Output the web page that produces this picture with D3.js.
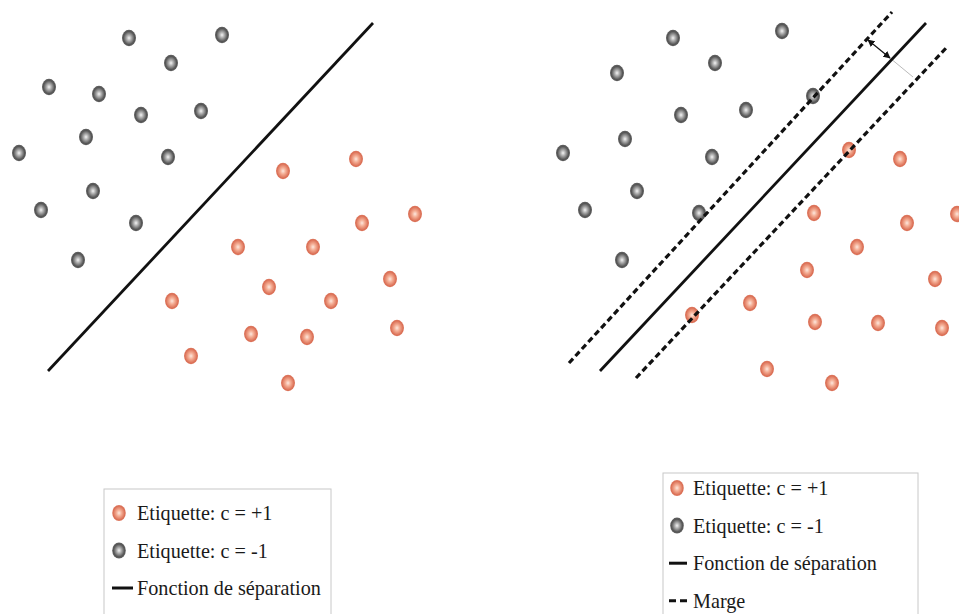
<!DOCTYPE html>
<html>
<head>
<meta charset="utf-8">
<script src="https://cdn.jsdelivr.net/npm/d3@7"></script>
<style>
body { margin: 0; background: #fff; }
text { font-family: "Liberation Serif", "Times New Roman", serif; }
</style>
</head>
<body>
<svg id="chart"></svg>
<script>
// feature space (x1, x2)
var grayLeft = [
  [12.9,36.2],[22.2,36.5],[17.1,33.7],[4.9,31.3],[9.9,30.6],[14.1,28.5],[20.1,28.9],
  [8.6,26.3],[1.9,24.7],[16.8,24.3],[9.3,20.9],[4.1,19.0],[13.6,17.7],[7.8,14.0]
];
var redLeft = [
  [28.3,22.9],[35.6,24.1],[41.5,18.6],[36.2,17.7],[23.8,15.3],[31.3,15.3],[39.0,12.1],
  [26.9,11.3],[33.1,9.9],[17.2,9.9],[25.1,6.6],[30.7,6.3],[39.7,7.2],[19.1,4.4],[28.8,1.7]
];
var sepLeft = [[4.8,2.9],[37.3,37.7]];

var grayRight = [
  [13.3,36.2],[24.2,36.9],[17.5,33.7],[7.7,32.7],[27.3,30.4],[14.1,28.5],[20.6,29.0],
  [8.5,26.1],[2.3,24.7],[17.2,24.3],[9.7,20.9],[4.5,19.0],[15.9,18.7],[8.2,14.0]
];
var redRight = [
  [30.9,25.0],[36.0,24.1],[41.7,18.6],[27.4,18.7],[36.7,17.7],[31.7,15.3],[26.7,13.0],
  [39.5,12.1],[21.0,9.7],[15.2,8.5],[27.5,7.8],[33.8,7.7],[40.2,7.2],[22.7,3.1],[29.2,1.7]
];
var sepRight = [[6.0,2.9],[38.6,37.7]];
var margeUp = [[2.9,3.7],[35.2,38.8]];
var margeDown = [[9.6,2.2],[40.7,35.3]];
var margeArrow = [[32.8,36.0],[35.0,34.2]];
var margeGuide = [[35.0,34.2],[37.3,32.3]];

var legendLeft = [
  {kind: "red", label: "Etiquette: c = +1"},
  {kind: "gray", label: "Etiquette: c = -1"},
  {kind: "line", label: "Fonction de séparation"}
];
var legendRight = [
  {kind: "red", label: "Etiquette: c = +1"},
  {kind: "gray", label: "Etiquette: c = -1"},
  {kind: "line", label: "Fonction de séparation"},
  {kind: "dash", label: "Marge"}
];

var screen = {width: 959, height: 614};

var svg = d3.select("#chart")
  .attr("width", screen.width)
  .attr("height", screen.height);

svg.append("rect")
  .attr("width", screen.width)
  .attr("height", screen.height)
  .attr("fill", "#fff");

var defs = svg.append("defs");

var gGray = defs.append("radialGradient").attr("id", "ballGray")
  .attr("cx", "50%").attr("cy", "50%").attr("r", "55%");
gGray.append("stop").attr("offset", "0%").attr("stop-color", "#f4f4f4");
gGray.append("stop").attr("offset", "30%").attr("stop-color", "#b0b0b0");
gGray.append("stop").attr("offset", "72%").attr("stop-color", "#555");
gGray.append("stop").attr("offset", "100%").attr("stop-color", "#666");

var gRed = defs.append("radialGradient").attr("id", "ballRed")
  .attr("cx", "50%").attr("cy", "50%").attr("r", "55%");
gRed.append("stop").attr("offset", "0%").attr("stop-color", "#fde8de");
gRed.append("stop").attr("offset", "35%").attr("stop-color", "#f4ad94");
gRed.append("stop").attr("offset", "80%").attr("stop-color", "#da6d53");
gRed.append("stop").attr("offset", "100%").attr("stop-color", "#e49480");

defs.append("marker").attr("id", "tip")
  .attr("viewBox", "0 0 10 10")
  .attr("refX", 9).attr("refY", 5)
  .attr("markerWidth", 6).attr("markerHeight", 6)
  .attr("orient", "auto-start-reverse")
  .append("path").attr("d", "M0,0 L10,5 L0,10 z").attr("fill", "#111");

var yScale = d3.scaleLinear().domain([0, 40]).range([400, 0]);
var xLeft = d3.scaleLinear().domain([0, 44]).range([0, 440]);
var xRight = d3.scaleLinear().domain([0, 44]).range([540, 980]);

var drawLine = function(g, pts, xScale, style)
{
  var line = d3.line().x(function(d){return xScale(d[0]);}).y(function(d){return yScale(d[1]);});
  return g.append("path")
    .attr("d", line(pts))
    .attr("fill", "none")
    .attr("stroke", style.color || "#111")
    .attr("stroke-width", style.width)
    .attr("stroke-dasharray", style.dash || null);
}

var drawBalls = function(g, pts, xScale, fill)
{
  g.selectAll(null)
    .data(pts)
    .enter()
    .append("ellipse")
    .attr("cx", function(d){return xScale(d[0]);})
    .attr("cy", function(d){return yScale(d[1]);})
    .attr("rx", 7)
    .attr("ry", 8.2)
    .attr("fill", fill);
}

// left panel
var left = svg.append("g");
drawLine(left, sepLeft, xLeft, {width: 2.8});
drawBalls(left, grayLeft, xLeft, "url(#ballGray)");
drawBalls(left, redLeft, xLeft, "url(#ballRed)");

// right panel
var right = svg.append("g");
drawLine(right, margeGuide, xRight, {width: 1, color: "#bbb"});
drawLine(right, sepRight, xRight, {width: 2.8});
drawBalls(right, grayRight, xRight, "url(#ballGray)");
drawBalls(right, redRight, xRight, "url(#ballRed)");
drawLine(right, margeUp, xRight, {width: 3.2, dash: "6,3.5"});
drawLine(right, margeDown, xRight, {width: 3.2, dash: "6,3.5"});
drawLine(right, margeArrow, xRight, {width: 1.2})
  .attr("marker-start", "url(#tip)")
  .attr("marker-end", "url(#tip)");

var drawLegend = function(box, items)
{
  var g = svg.append("g");
  g.append("rect")
    .attr("x", box.x).attr("y", box.y)
    .attr("width", box.w).attr("height", 200)
    .attr("fill", "#fff")
    .attr("stroke", "#c8c8c8")
    .attr("stroke-width", 1);

  var rows = g.selectAll(null)
    .data(items)
    .enter()
    .append("g")
    .attr("transform", function(d, i){return "translate(" + box.x + "," + (box.row0 + i*box.step) + ")";});

  rows.filter(function(d){return d.kind == "red" || d.kind == "gray";})
    .append("ellipse")
    .attr("cx", box.mark).attr("cy", 0)
    .attr("rx", 6.8).attr("ry", 8)
    .attr("fill", function(d){return d.kind == "red" ? "url(#ballRed)" : "url(#ballGray)";});

  rows.filter(function(d){return d.kind == "line" || d.kind == "dash";})
    .append("line")
    .attr("x1", box.lineX).attr("x2", box.lineX + box.lineW)
    .attr("y1", 0).attr("y2", 0)
    .attr("stroke", "#111")
    .attr("stroke-width", 3)
    .attr("stroke-dasharray", function(d){return d.kind == "dash" ? "7,4" : null;});

  rows.append("text")
    .attr("x", box.text)
    .attr("y", 7)
    .attr("font-size", 20.2)
    .attr("fill", "#1a1a1a")
    .text(function(d){return d.label;});
}

drawLegend({x: 104, y: 489, w: 227, row0: 513, step: 37.5, mark: 15, lineX: 8, lineW: 21, text: 33}, legendLeft);
drawLegend({x: 663, y: 473, w: 255, row0: 488, step: 37.6, mark: 14, lineX: 6, lineW: 18, text: 30}, legendRight);
</script>
</body>
</html>
